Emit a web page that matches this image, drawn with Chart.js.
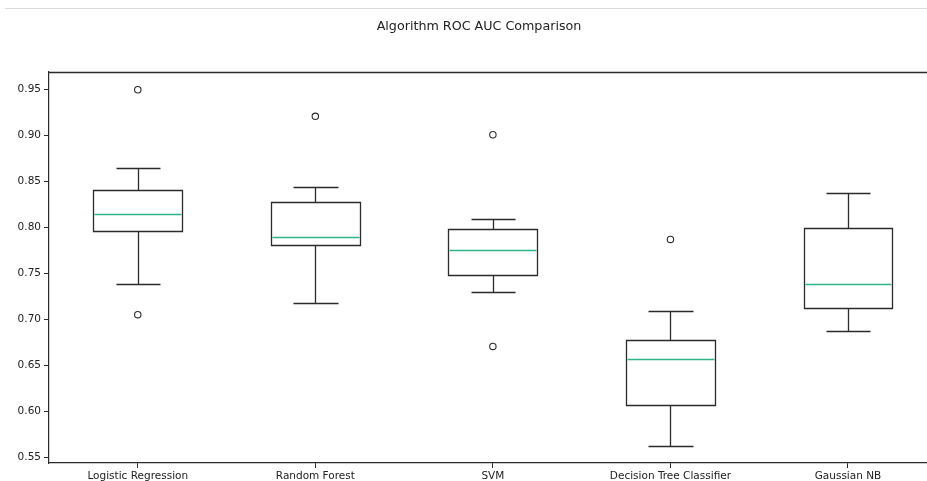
<!DOCTYPE html>
<html lang="en">

<head>
    <meta charset="UTF-8">
    <title>Algorithm ROC AUC Comparison</title>
    <script src="https://cdn.jsdelivr.net/npm/chart.js@4.4.1/dist/chart.umd.min.js"></script>
    <style>
        html, body { margin: 0; padding: 0; background: #fff; overflow: hidden; }
        .sep { position: absolute; top: 8px; left: 5px; right: 0; height: 1px; background: #dcdcdc; }
        #chartCanvas { display: block; }
    </style>
</head>

<body>
    <div class="sep"></div>
    <canvas id="chartCanvas" width="927" height="481"></canvas>
    <script>
        // model names along the x axis
        let algorithms = ['Logistic Regression', 'Random Forest', 'SVM', 'Decision Tree Classifier', 'Gaussian NB'];

        // box plot stats
        let whiskerLow = [0.738, 0.718, 0.730, 0.562, 0.6875];
        let q1 = [0.796, 0.781, 0.748, 0.6065, 0.712];
        let medians = [0.815, 0.790, 0.775, 0.6567, 0.738];
        let q3 = [0.841, 0.828, 0.798, 0.6773, 0.799];
        let whiskerHigh = [0.865, 0.844, 0.809, 0.709, 0.837];
        let outliers = [[0.950, 0.705], [0.921], [0.901, 0.6705], [0.787], []];

        let yTicks = [0.55, 0.60, 0.65, 0.70, 0.75, 0.80, 0.85, 0.90, 0.95];

        let fliers = [];
        outliers.forEach((list, i) => {
            list.forEach(v => fliers.push({ x: i + 1, y: v }));
        });

        const ink = '#2b2b2b';
        const medianColor = '#2fb487';
        // the original figure is wider than the visible crop, title is centred on the whole figure
        const figureWidth = 958;

        // snap to pixel centres so 1px lines stay crisp
        const crisp = (p) => Math.round(p) + 0.5;

        // draws the boxes, whiskers and caps through the chart scales
        const boxPlugin = {
            id: 'boxes',
            afterLayout(chart) {
                let t = chart.titleBlock;
                if (t) t.right = t.left + figureWidth;
            },
            beforeDatasetsDraw(chart) {
                const ctx = chart.ctx;
                const x = chart.scales.x;
                const y = chart.scales.y;
                const area = chart.chartArea;
                ctx.save();
                ctx.lineWidth = 1.3;
                ctx.strokeStyle = ink;
                // top spine
                ctx.beginPath();
                ctx.moveTo(area.left, crisp(area.top));
                ctx.lineTo(area.right, crisp(area.top));
                ctx.stroke();

                algorithms.forEach((name, i) => {
                    let pos = i + 1;
                    let left = crisp(x.getPixelForValue(pos - 0.25));
                    let right = crisp(x.getPixelForValue(pos + 0.25));
                    let capL = crisp(x.getPixelForValue(pos - 0.125));
                    let capR = crisp(x.getPixelForValue(pos + 0.125));
                    let mid = crisp(x.getPixelForValue(pos));
                    let yq1 = crisp(y.getPixelForValue(q1[i]));
                    let yq3 = crisp(y.getPixelForValue(q3[i]));
                    let ylo = crisp(y.getPixelForValue(whiskerLow[i]));
                    let yhi = crisp(y.getPixelForValue(whiskerHigh[i]));
                    let ymed = crisp(y.getPixelForValue(medians[i]));

                    ctx.strokeStyle = ink;
                    ctx.beginPath();
                    // box
                    ctx.rect(left, yq3, right - left, yq1 - yq3);
                    // whiskers
                    ctx.moveTo(mid, yq1); ctx.lineTo(mid, ylo);
                    ctx.moveTo(mid, yq3); ctx.lineTo(mid, yhi);
                    // caps
                    ctx.moveTo(capL, ylo); ctx.lineTo(capR, ylo);
                    ctx.moveTo(capL, yhi); ctx.lineTo(capR, yhi);
                    ctx.stroke();

                    ctx.strokeStyle = medianColor;
                    ctx.beginPath();
                    ctx.moveTo(left + 1, ymed); ctx.lineTo(right - 1, ymed);
                    ctx.stroke();
                });
                ctx.restore();
            }
        };

        let mychart = document.getElementById('chartCanvas').getContext('2d');
        let chart = new Chart(mychart, {
            type: 'scatter',
            data: {
                datasets: [
                    {
                        label: 'Outliers',
                        data: fliers,
                        pointStyle: 'circle',
                        pointRadius: 3.2,
                        pointBorderWidth: 1.1,
                        borderColor: ink,
                        backgroundColor: 'rgba(0,0,0,0)'
                    }
                ]
            },
            options: {
                responsive: false,
                animation: false,
                layout: { padding: 0, autoPadding: false },
                plugins: {
                    legend: { display: false },
                    tooltip: { enabled: false },
                    title: {
                        display: true,
                        text: 'Algorithm ROC AUC Comparison',
                        color: '#222',
                        font: { family: 'DejaVu Sans', size: 12.7, weight: 'normal', lineHeight: 1.2 },
                        padding: { top: 19, bottom: 37.5 }
                    }
                },
                scales: {
                    x: {
                        type: 'linear',
                        min: 0.5,
                        max: 5.445,
                        afterBuildTicks: (axis) => {
                            axis.ticks = algorithms.map((a, i) => ({ value: i + 1 }));
                        },
                        afterFit: (axis) => {
                            axis.height = 18;
                            axis.paddingLeft = 0;
                            axis.paddingRight = 0;
                        },
                        ticks: {
                            autoSkip: false,
                            maxRotation: 0,
                            padding: 2,
                            color: '#222',
                            font: { family: 'DejaVu Sans', size: 10.5 },
                            callback: (v) => algorithms[Math.round(v) - 1]
                        },
                        grid: {
                            drawOnChartArea: false,
                            drawTicks: true,
                            tickLength: 5,
                            color: ink
                        },
                        border: { display: true, color: ink, width: 1.2 }
                    },
                    y: {
                        min: 0.5435,
                        max: 0.9696,
                        afterBuildTicks: (axis) => {
                            axis.ticks = yTicks.map(v => ({ value: v }));
                        },
                        afterFit: (axis) => {
                            axis.width = 49;
                            axis.paddingTop = 0;
                            axis.paddingBottom = 0;
                        },
                        ticks: {
                            padding: 3,
                            color: '#222',
                            font: { family: 'DejaVu Sans', size: 10.5 },
                            callback: (v) => v.toFixed(2)
                        },
                        grid: {
                            drawOnChartArea: false,
                            drawTicks: true,
                            tickLength: 5,
                            color: ink
                        },
                        border: { display: true, color: ink, width: 1.2 }
                    }
                }
            },
            plugins: [boxPlugin]
        });
    </script>
</body>

</html>
